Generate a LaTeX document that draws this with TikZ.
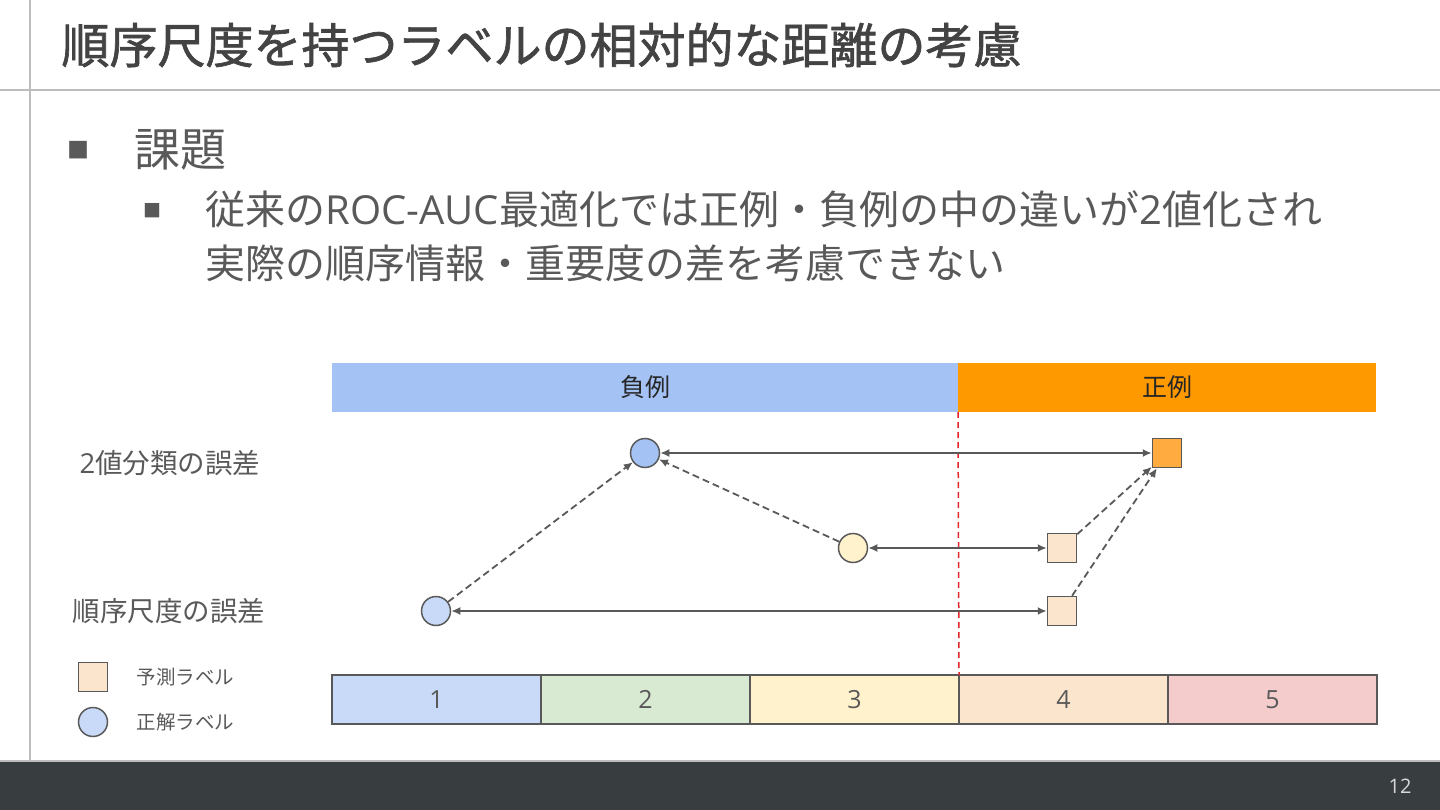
\documentclass[tikz,border=0pt]{standalone}
\usepackage{fontspec}
\setmainfont{Noto Sans CJK JP}
\newfontfamily\latinfont{Open Sans}
\newfontfamily\titlefont[FakeBold=1.4]{Noto Sans CJK JP}
\usetikzlibrary{positioning, arrows.meta}
\definecolor{textgray}{HTML}{595959}
\definecolor{titlegray}{HTML}{434343}
\definecolor{linegray}{HTML}{595959}
\definecolor{rulegray}{HTML}{BDBDBD}
\definecolor{footer}{HTML}{383D40}
\definecolor{negblue}{HTML}{A4C2F4}
\definecolor{posorange}{HTML}{FF9900}
\definecolor{predorange}{HTML}{FFAB40}
\definecolor{rankone}{HTML}{C9DAF8}
\definecolor{ranktwo}{HTML}{D9EAD3}
\definecolor{rankthree}{HTML}{FFF2CC}
\definecolor{rankfour}{HTML}{FCE5CD}
\definecolor{rankfive}{HTML}{F4CCCC}
\definecolor{splitred}{HTML}{E0262B}

\begin{document}
\begin{tikzpicture}[
        x=1pt, y=-1pt,
        every node/.style={text=textgray},
        band/.style={rectangle, minimum height=49pt, inner sep=0pt, outer sep=0pt, font=\fontsize{25}{25}\selectfont, text=black!85},
        cell/.style={rectangle, draw=linegray, line width=1.3pt, minimum width=209pt, minimum height=49pt, inner sep=0pt, outer sep=0pt, font=\latinfont\fontsize{25}{25}\selectfont},
        truth/.style={circle, draw=linegray, line width=1.5pt, minimum size=29pt, inner sep=0pt},
        pred/.style={rectangle, draw=linegray, line width=1.5pt, minimum size=29pt, inner sep=0pt},
        label/.style={anchor=west, font=\fontsize{27.5}{27.5}\selectfont},
        legend/.style={anchor=west, font=\fontsize{19.5}{19.5}\selectfont},
        gap/.style={{Latex[length=9pt,width=8pt]}-{Latex[length=9pt,width=8pt]}, draw=linegray, line width=1.8pt},
        move/.style={-{Latex[length=9pt,width=8pt]}, draw=linegray, line width=1.8pt, dash pattern=on 7pt off 4pt},
        split/.style={draw=splitred, line width=1.5pt, dash pattern=on 6pt off 4pt}
    ]
        \useasboundingbox (0,0) rectangle (1440,810);

        % Slide frame
        \draw[rulegray, line width=1.5pt] (30,0) -- (30,761);
        \draw[rulegray, line width=2pt] (0,90) -- (1440,90);
        \fill[footer] (0,762) rectangle (1440,810);
        \draw[rulegray, line width=2pt] (0,761) -- (1440,761);
        \node[text=white!85!black, font=\latinfont\fontsize{20}{20}\selectfont] (page) at (1400,786) {12};

        % Title and bullets
        \node[anchor=west, text=titlegray, font=\titlefont\fontsize{48}{48}\selectfont] (title) at (58,45) {順序尺度を持つラベルの相対的な距離の考慮};
        \node[font=\fontsize{22}{22}\selectfont] (b1) at (78,150) {■};
        \node[anchor=west, font=\fontsize{46}{46}\selectfont] (topic) at (131,150) {課題};
        \node[font=\fontsize{18}{18}\selectfont] (b2) at (152,211) {■};
        \node[anchor=north west, align=left, font=\fontsize{40}{54}\selectfont] (detail) at (202,187)
            {従来の{\latinfont ROC-AUC}最適化では正例・負例の中の違いが{\latinfont 2}値化され\\実際の順序情報・重要度の差を考慮できない};

        % Class bands
        \node[band, fill=negblue, minimum width=626pt] (neg) at (645,387.5) {負例};
        \node[band, fill=posorange, minimum width=418pt, right=0pt of neg] (pos) {正例};

        % Rank cells
        \node[cell, fill=rankone] (c1) at (436.5,699.5) {1};
        \node[cell, fill=ranktwo, right=0pt of c1] (c2) {2};
        \node[cell, fill=rankthree, right=0pt of c2] (c3) {3};
        \node[cell, fill=rankfour, right=0pt of c3] (c4) {4};
        \node[cell, fill=rankfive, right=0pt of c4] (c5) {5};

        % Threshold
        \draw[split] (neg.south east) -- (c3.north east);

        % Row labels
        \node[label] (binlab) at (76,463) {{\latinfont 2}値分類の誤差};
        \node[label] (ordlab) at (69,611) {順序尺度の誤差};

        % Labels and predictions
        \node[truth, fill=negblue] (tneg) at (645,453) {};
        \node[pred, fill=predorange] (ppos) at (1167,453) {};
        \node[truth, fill=rankthree] (tmid) at (853,548) {};
        \node[pred, fill=rankfour] (pmid) at (1062,548) {};
        \node[truth, fill=rankone] (tlow) at (436,611) {};
        \node[pred, fill=rankfour] (plow) at (1062,611) {};

        % Errors
        \draw[gap] (tneg) -- (ppos);
        \draw[gap] (tmid) -- (pmid);
        \draw[gap] (tlow) -- (plow);
        \draw[move] (tlow) -- (tneg);
        \draw[move] (tmid) -- (tneg);
        \draw[move] (pmid) -- (ppos);
        \draw[move] (plow) -- (ppos);

        % Legend
        \node[pred, fill=rankfour] (keypred) at (93,677) {};
        \node[legend, right=25pt of keypred] (keypredlab) {予測ラベル};
        \node[truth, fill=rankone] (keytruth) at (93,722) {};
        \node[legend, right=25pt of keytruth] (keytruthlab) {正解ラベル};

    \end{tikzpicture}
\end{document}
